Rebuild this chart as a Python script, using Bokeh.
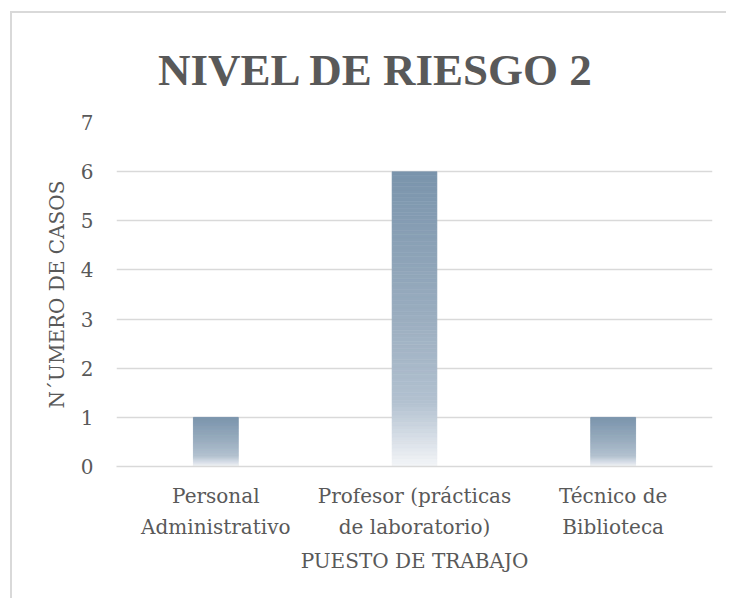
from bokeh.plotting import figure
from bokeh.models import FactorRange, Range1d, FixedTicker, ColumnDataSource
from bokeh.embed import file_html
from bokeh.resources import INLINE

# ---- data ----
categories = ["Personal\nAdministrativo", "Profesor (prácticas\nde laboratorio)", "Técnico de\nBiblioteca"]
values = [1, 6, 1]
y_ticks = [0, 1, 2, 3, 4, 5, 6, 7]
title_text = "NIVEL DE RIESGO 2"
x_title = "PUESTO DE TRABAJO"
y_title = "N´UMERO DE CASOS"

TEXT = "#595959"
FONT = "DejaVu Serif"
FS = "20px"

p = figure(x_range=FactorRange(*categories), y_range=Range1d(0, 7),
           width=716, height=587, output_backend="svg", toolbar_location=None,
           min_border_left=104, min_border_right=16, min_border_top=109, min_border_bottom=134,
           background_fill_color="white", border_fill_color="white")
p.outline_line_color = None
p.styles = {"border-left": "2px solid #d9d9d9", "border-top": "2px solid #d9d9d9",
            "margin-left": "10px", "margin-top": "11px"}

# title
p.title.text = title_text
p.title.align = "left"
p.title.offset = 41.5
p.title.standoff = 55
p.title.text_font = "Liberation Serif"
p.title.text_font_style = "bold"
p.title.text_font_size = "45px"
p.title.text_color = TEXT

# gradient bars made of thin slices (colour stops relative to bar height, from top)
stops = [(0.0, (122, 148, 172)), (0.5, (155, 174, 192)), (0.78, (178, 193, 208)), (1.0, (244, 246, 248))]

def colour_at(t):
    for (t0, c0), (t1, c1) in zip(stops[:-1], stops[1:]):
        if t0 <= t <= t1:
            f = (t - t0) / (t1 - t0)
            return "#%02x%02x%02x" % tuple(int(round(a + (b - a) * f)) for a, b in zip(c0, c1))
    return "#%02x%02x%02x" % stops[-1][1]

N = 80
xs, bottoms, tops, cols = [], [], [], []
for cat, v in zip(categories, values):
    for i in range(N):
        b = v * i / N
        t = v * (i + 1) / N
        frac_from_top = 1 - (b + t) / 2 / v
        xs.append(cat); bottoms.append(b); tops.append(t); cols.append(colour_at(frac_from_top))
src = ColumnDataSource(dict(x=xs, bottom=bottoms, top=tops, color=cols))
p.vbar(x="x", bottom="bottom", top="top", width=0.226, source=src,
       fill_color="color", line_color="color", line_width=0.6)

# y axis
p.yaxis.ticker = FixedTicker(ticks=y_ticks)
p.yaxis.axis_line_color = None
p.yaxis.major_tick_line_color = None
p.yaxis.minor_tick_line_color = None
p.yaxis.major_tick_out = 0
p.yaxis.major_tick_in = 0
p.yaxis.major_label_standoff = 23
p.yaxis.major_label_text_font = FONT
p.yaxis.major_label_text_font_size = FS
p.yaxis.major_label_text_color = TEXT
p.yaxis.axis_label = y_title
p.yaxis.axis_label_text_font = FONT
p.yaxis.axis_label_text_font_size = FS
p.yaxis.axis_label_text_font_style = "normal"
p.yaxis.axis_label_text_color = TEXT
p.yaxis.axis_label_standoff = 9

# x axis
p.xaxis.axis_line_color = "#d9d9d9"
p.xaxis.axis_line_width = 1.5
p.xaxis.major_tick_line_color = None
p.xaxis.major_tick_out = 0
p.xaxis.major_tick_in = 0
p.xaxis.major_label_standoff = 17
p.xaxis.major_label_text_font = FONT
p.xaxis.major_label_text_font_size = FS
p.xaxis.major_label_text_color = TEXT
p.xaxis.major_label_text_line_height = 1.3
p.xaxis.axis_label = x_title
p.xaxis.axis_label_text_font = FONT
p.xaxis.axis_label_text_font_size = FS
p.xaxis.axis_label_text_font_style = "normal"
p.xaxis.axis_label_text_color = TEXT
p.xaxis.axis_label_standoff = 7

p.xgrid.grid_line_color = None
p.ygrid.grid_line_color = "#d9d9d9"
p.ygrid.grid_line_width = 1.5

open("out.html", "w").write(file_html(p, INLINE))
